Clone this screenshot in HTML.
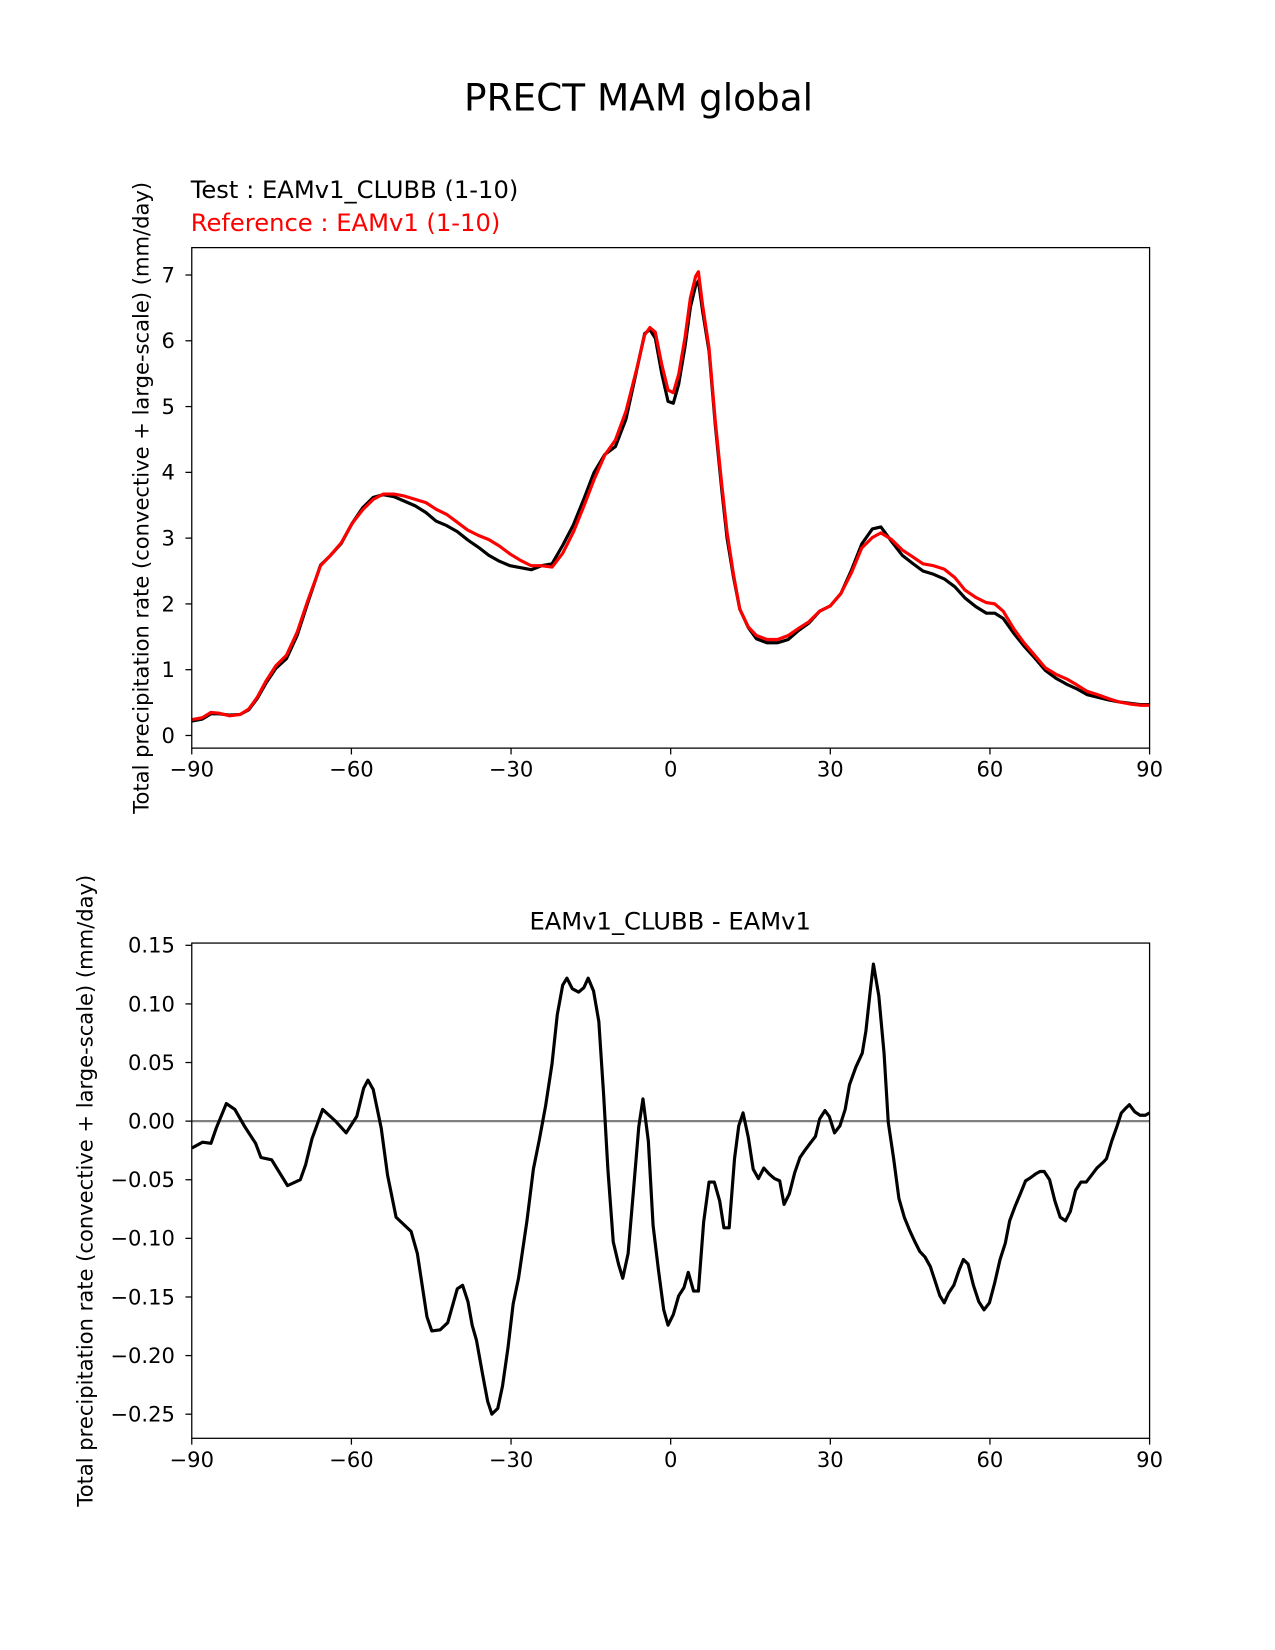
<!DOCTYPE html>
<html><head><meta charset="utf-8"><style>
html,body{margin:0;padding:0;background:#fff;}
svg{display:block;font-family:"DejaVu Sans","Liberation Sans",sans-serif;}
</style></head><body>
<svg id="chart" width="1275" height="1650" viewBox="0 0 1275 1650" xmlns="http://www.w3.org/2000/svg">
<g transform="scale(1.0537)">
<text x="606" y="105" font-size="35.5" text-anchor="middle">PRECT MAM global</text>
<text x="181" y="188" font-size="23">Test : EAMv1_CLUBB (1-10)</text>
<text x="181" y="219" font-size="23" fill="#ff0000">Reference : EAMv1 (1-10)</text>
<text x="636" y="882" font-size="23" text-anchor="middle">EAMv1_CLUBB - EAMv1</text>
<g id="top"></g>
<g id="bot"></g>
</g>
</svg>
<script>
const topLat=[-90,-88,-86.4,-84.9,-82.9,-80.9,-79.3,-77.7,-76.1,-74.2,-72.2,-70.2,-68.2,-65.8,-63.9,-61.9,-59.9,-57.9,-55.9,-54,-52,-50,-48,-46,-44.1,-42.1,-40.1,-38.1,-36.1,-34.2,-32.2,-30.2,-28.2,-26.2,-24.3,-22.3,-20.3,-18.3,-16.3,-14.4,-12.4,-10.4,-8.4,-6.4,-4.9,-3.9,-2.9,-1.7,-0.5,0.5,1.5,2.7,3.7,4.7,5.2,6.0,7.2,8.4,9.6,10.6,11.8,13.0,14.6,16.1,18.1,20.1,22.1,24.1,26.0,28.0,30.0,32.0,34.0,35.9,37.9,39.5,41.5,43.5,45.4,47.4,49.4,51.4,53.4,55.3,57.3,59.3,60.9,62.5,64.5,66.4,68.4,70.4,72.4,74.4,76.3,78.3,80.3,82.3,84.3,86.2,88.2,90];
const refVals=[0.24,0.27,0.35,0.34,0.30,0.32,0.40,0.58,0.82,1.06,1.22,1.57,2.05,2.58,2.74,2.93,3.22,3.43,3.59,3.67,3.67,3.64,3.59,3.54,3.44,3.36,3.24,3.12,3.04,2.98,2.88,2.76,2.66,2.58,2.58,2.56,2.77,3.09,3.49,3.89,4.26,4.49,4.93,5.57,6.09,6.20,6.13,5.65,5.25,5.21,5.49,6.05,6.65,6.98,7.05,6.54,5.89,4.77,3.81,3.09,2.45,1.92,1.65,1.52,1.46,1.46,1.52,1.63,1.73,1.89,1.97,2.16,2.48,2.85,3.01,3.08,2.98,2.82,2.72,2.61,2.58,2.53,2.40,2.21,2.10,2.02,2.00,1.89,1.62,1.41,1.22,1.03,0.93,0.86,0.77,0.67,0.62,0.56,0.51,0.48,0.46,0.46];
const testVals=[0.22,0.25,0.33,0.33,0.31,0.32,0.39,0.56,0.79,1.02,1.17,1.52,2.02,2.59,2.74,2.92,3.22,3.46,3.62,3.66,3.63,3.56,3.49,3.39,3.26,3.19,3.10,2.97,2.86,2.74,2.65,2.58,2.55,2.52,2.58,2.61,2.89,3.20,3.60,4.00,4.27,4.39,4.81,5.55,6.11,6.17,6.04,5.51,5.08,5.05,5.34,5.91,6.51,6.84,6.91,6.45,5.84,4.71,3.73,3.00,2.41,1.92,1.64,1.47,1.41,1.41,1.46,1.60,1.71,1.89,1.97,2.16,2.52,2.91,3.14,3.17,2.95,2.74,2.62,2.50,2.45,2.38,2.26,2.09,1.96,1.86,1.86,1.78,1.55,1.36,1.18,0.99,0.87,0.78,0.71,0.62,0.58,0.54,0.51,0.49,0.47,0.47];
const diffLat=[-90,-88,-86.4,-85.4,-83.5,-81.9,-80,-78,-77,-75,-72,-69.6,-68.6,-67.4,-65.4,-63,-61,-59,-57.7,-56.9,-55.9,-54.4,-53.2,-51.6,-48.8,-47.6,-45.8,-44.9,-43.3,-41.9,-40.1,-39.1,-38.1,-37.3,-36.5,-35.3,-34.4,-33.6,-32.5,-31.6,-30.6,-29.6,-28.6,-27,-25.8,-24.7,-23.5,-22.3,-21.3,-20.3,-19.5,-18.5,-17.3,-16.3,-15.5,-14.5,-13.5,-12.6,-11.8,-10.8,-9.8,-9,-8,-7,-6,-5.2,-4.2,-3.3,-2.3,-1.3,-0.5,0.5,1.5,2.5,3.3,4.3,5.2,6.2,7.2,8.2,9.2,10,11,12,12.8,13.6,14.6,15.5,16.5,17.5,18.5,19.5,20.5,21.3,22.3,23.3,24.3,25.2,26.2,27.2,28,29,29.8,30.8,31.8,32.8,33.6,34.8,36,36.7,37.5,38.1,39.1,40.1,40.9,41.9,42.9,43.9,44.9,45.8,46.8,47.8,48.8,49.8,50.6,51.4,52.2,53.2,54.2,55,55.9,56.9,57.9,58.9,59.9,60.9,61.9,62.9,63.7,64.7,65.7,66.7,67.7,68.6,69.4,70.2,71.2,72.2,73.2,74.2,75.1,76.1,77.1,78.1,79.1,80.1,81.3,81.9,82.9,83.9,84.7,85.5,86.2,87.2,88.2,89.2,90];
const diffVals=[-0.023,-0.018,-0.019,-0.006,0.015,0.01,-0.005,-0.019,-0.031,-0.033,-0.055,-0.05,-0.037,-0.015,0.01,0.0,-0.01,0.004,0.028,0.035,0.027,-0.006,-0.046,-0.082,-0.094,-0.113,-0.167,-0.179,-0.178,-0.172,-0.143,-0.14,-0.154,-0.174,-0.187,-0.217,-0.239,-0.25,-0.245,-0.226,-0.194,-0.156,-0.134,-0.085,-0.041,-0.016,0.013,0.049,0.091,0.116,0.122,0.113,0.11,0.114,0.122,0.111,0.085,0.022,-0.041,-0.103,-0.122,-0.134,-0.113,-0.059,-0.005,0.019,-0.017,-0.089,-0.127,-0.161,-0.174,-0.165,-0.149,-0.142,-0.129,-0.145,-0.145,-0.086,-0.052,-0.052,-0.068,-0.091,-0.091,-0.032,-0.004,0.007,-0.014,-0.041,-0.049,-0.04,-0.045,-0.049,-0.051,-0.071,-0.062,-0.044,-0.031,-0.025,-0.019,-0.013,0.002,0.009,0.004,-0.01,-0.004,0.01,0.031,0.046,0.058,0.077,0.111,0.134,0.107,0.058,-0.001,-0.032,-0.066,-0.082,-0.093,-0.102,-0.111,-0.116,-0.124,-0.138,-0.149,-0.155,-0.147,-0.14,-0.127,-0.118,-0.122,-0.14,-0.154,-0.161,-0.155,-0.138,-0.118,-0.104,-0.085,-0.073,-0.062,-0.051,-0.048,-0.045,-0.043,-0.043,-0.05,-0.068,-0.082,-0.085,-0.077,-0.059,-0.052,-0.052,-0.046,-0.04,-0.035,-0.032,-0.017,-0.004,0.007,0.011,0.014,0.008,0.005,0.005,0.007];
const xTicks=[-90,-60,-30,0,30,60,90];
const xTickLabels=["\u221290","\u221260","\u221230","0","30","60","90"];
const topYTicks=[0,1,2,3,4,5,6,7];
const botYTicks=[0.15,0.10,0.05,0.00,-0.05,-0.10,-0.15,-0.20,-0.25];
const botYTickLabels=["0.15","0.10","0.05","0.00","\u22120.05","\u22120.10","\u22120.15","\u22120.20","\u22120.25"];

const NS="http://www.w3.org/2000/svg";
function mk(parent,tag,attrs){const e=document.createElementNS(NS,tag);for(const k in attrs)e.setAttribute(k,attrs[k]);parent.appendChild(e);return e;}
const X0=182,X1=1091;
const xs=v=>X0+(v+90)/180*(X1-X0);

function panel(g,top,bottom,ys,yTicks,yLabels,ylabelX,series,zero,pre){
  for(let i=0;i<xTicks.length;i++){
    const x=xs(xTicks[i]);
    const t=mk(g,'line',{x1:x,x2:x,y1:bottom,y2:bottom+6,stroke:'#000','stroke-width':1.2});
    
    
    const l=mk(g,'text',{x:x,y:bottom+27,'font-size':20,'text-anchor':'middle'});
    l.textContent=xTickLabels[i];
    
    
  }
  for(let i=0;i<yTicks.length;i++){
    const y=ys(yTicks[i]);
    const t=mk(g,'line',{x1:X0-6,x2:X0,y1:y,y2:y,stroke:'#000','stroke-width':1.2});
    
    
    const l=mk(g,'text',{x:X0-16,y:y+7,'font-size':20,'text-anchor':'end'});
    l.textContent=yLabels[i];
    
    
  }
  const cy=(top+bottom)/2;
  const yl=mk(g,'text',{x:ylabelX,y:cy,'font-size':20,'text-anchor':'middle',transform:`rotate(-90 ${ylabelX} ${cy})`});
  yl.textContent='Total precipitation rate (convective + large-scale) (mm/day)';
  
  
  if(zero){
    const z=mk(g,'line',{x1:X0,x2:X1,y1:ys(0),y2:ys(0),stroke:'#808080','stroke-width':2.2});
    
    
  }
  for(const s of series){
    const d=s.lat.map((v,i)=>(i?'L':'M')+xs(v).toFixed(1)+','+ys(s.vals[i]).toFixed(1)).join(' ');
    const p=mk(g,'path',{d:d,fill:'none',stroke:s.color,'stroke-width':3,'stroke-linejoin':'round'});
    
    
  }
  const f=mk(g,'rect',{x:X0,y:top,width:X1-X0,height:bottom-top,fill:'none',stroke:'#000','stroke-width':1.2});
  
  
}
const ysTop=v=>698-v*62.43;
panel(document.getElementById('top'),235,710,ysTop,topYTicks,topYTicks.map(String),141,
  [{lat:topLat,vals:testVals,color:'#000',name:'test-line'},{lat:topLat,vals:refVals,color:'#ff0000',name:'reference-line'}],false,'top-');
const ysBot=v=>1064-v*1112.5;
panel(document.getElementById('bot'),895,1365,ysBot,botYTicks,botYTickLabels,88,
  [{lat:diffLat,vals:diffVals,color:'#000',name:'difference-line'}],true,'diff-');
</script>
</body></html>
